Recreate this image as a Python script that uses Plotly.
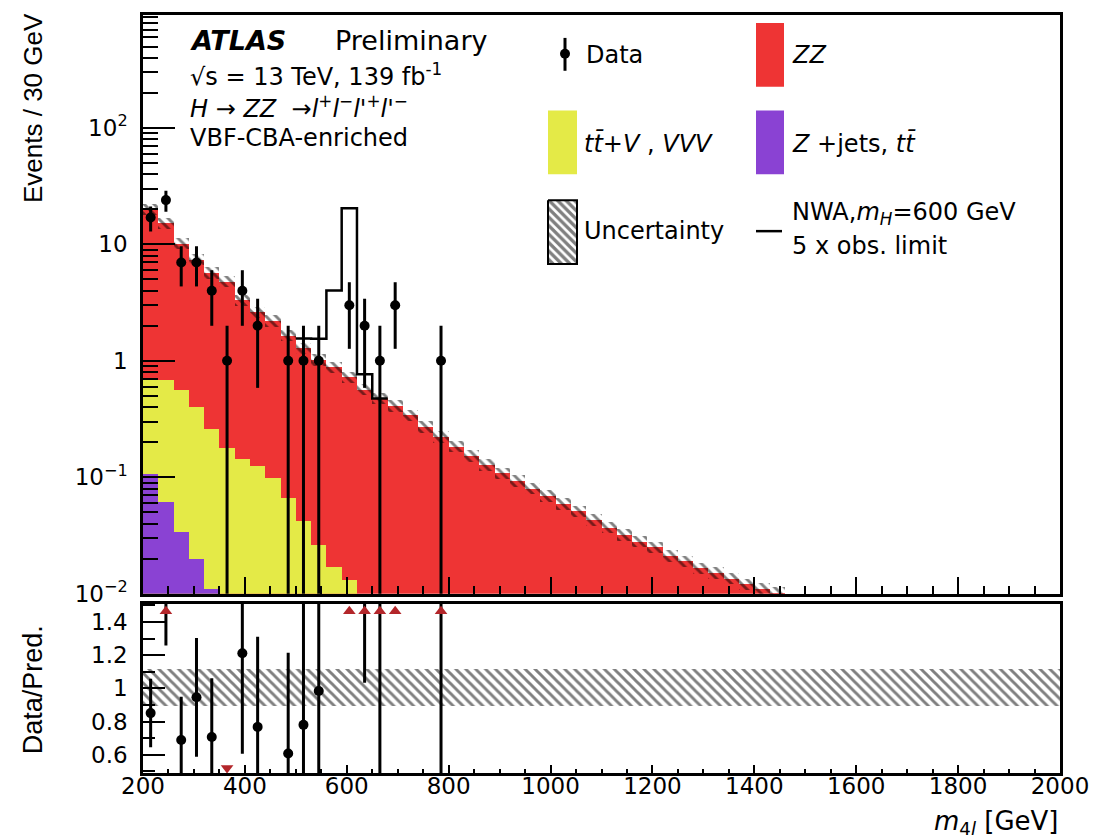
import numpy as np
import plotly.graph_objects as go

# ---------------- values ----------------
bin_edges = list(range(200, 2001, 30))            # 60 bins of 30 GeV
data_counts = [17, 24, 7, 7, 4, 1, 4, 2, 0, 1,
               1, 1, 0, 3, 2, 1, 3, 0, 0, 1] + [0] * 40
zz_yield = [19.3, 14.5, 9.6, 7.0, 5.4, 4.6, 3.16, 2.48, 2.10, 1.58,
            1.24, 0.99, 0.86, 0.71, 0.56, 0.47, 0.41, 0.34, 0.27, 0.221,
            0.183, 0.152, 0.127, 0.108, 0.093, 0.080, 0.069, 0.059, 0.051, 0.043,
            0.037, 0.032, 0.028, 0.025, 0.021, 0.019, 0.0165, 0.015, 0.0135, 0.012,
            0.011, 0.0102] + [0] * 18
ttv_vvv_yield = [0.574, 0.619, 0.526, 0.380, 0.249, 0.174, 0.139, 0.125, 0.099, 0.067,
                 0.042, 0.026, 0.017, 0.013, 0.007, 0.005] + [0] * 44
zjets_tt_yield = [0.106, 0.061, 0.034, 0.020, 0.011, 0.006, 0.004] + [0] * 53
signal_nwa600 = [0] * 10 + [0.27, 0.53, 3.15, 19.7, 0.20] + [0] * 45
unc_rel_up = 0.12
unc_rel_dn = 0.105
x_tick_vals = [200, 400, 600, 800, 1000, 1200, 1400, 1600, 1800, 2000]
y_tick_vals = [0.01, 0.1, 1, 10, 100]
y_tick_text = ["10<sup>\u22122</sup>", "10<sup>\u22121</sup>", "1", "10", "10<sup>2</sup>"]
r_tick_vals = [0.6, 0.8, 1.0, 1.2, 1.4]
r_tick_text = ["0.6", "0.8", "1", "1.2", "1.4"]

# ---------------- derived ----------------
edges = np.array(bin_edges, float)
centers = 0.5 * (edges[:-1] + edges[1:])
widths = np.diff(edges)
zj = np.array(zjets_tt_yield, float)
ttv = np.array(ttv_vvv_yield, float)
zz = np.array(zz_yield, float)
sig = np.array(signal_nwa600, float)
n = np.array(data_counts, float)
cum_purple = zj
cum_yellow = zj + ttv
total = cum_yellow + zz

RED = "#ee3434"
YELLOW = "#e4ea47"
PURPLE = "#8a42d3"
ARROW = "#b3262a"

def nz(a):
    return [float(v) if v > 0 else None for v in a]

W, H = 1113, 839
L, R, T, B = 143, 53, 12, 66
PW, PH = W - L - R, H - T - B

def px(xp):
    return (xp - L) / PW

def py(yp):
    return (H - B - yp) / PH

fig = go.Figure()

# stacked backgrounds (drawn as cumulative histograms, ROOT THStack style)
for cum, col in [(total, RED), (cum_yellow, YELLOW), (cum_purple, PURPLE)]:
    fig.add_trace(go.Bar(x=centers, y=nz(cum), width=widths,
                         marker=dict(color=col, line=dict(width=0)),
                         xaxis="x", yaxis="y", showlegend=False, hoverinfo="skip"))

HATCH = dict(shape="\\", fgcolor="black", bgcolor="rgba(0,0,0,0)", size=7, solidity=0.42)

# uncertainty band (main)
m = total > 0
fig.add_trace(go.Bar(x=centers[m], base=total[m] * (1 - unc_rel_dn),
                     y=total[m] * (unc_rel_up + unc_rel_dn), width=widths[m],
                     marker=dict(color="rgba(0,0,0,0)", line=dict(width=0), pattern=HATCH),
                     xaxis="x", yaxis="y", showlegend=False, hoverinfo="skip"))

# signal outline stacked on total
idx = np.nonzero(sig)[0]
i0, i1 = idx[0], idx[-1] + 1
sx = list(edges[i0:i1 + 2])
sy = list((total + sig)[i0:i1 + 1]) + [(total + sig)[i1]]
fig.add_trace(go.Scatter(x=sx, y=sy, mode="lines", line=dict(color="black", width=2.5, shape="hv"),
                         xaxis="x", yaxis="y", showlegend=False, hoverinfo="skip"))

# data
dm = n > 0
err = np.sqrt(n[dm])
fig.add_trace(go.Scatter(x=centers[dm], y=n[dm], mode="markers",
                         marker=dict(color="black", size=10),
                         error_y=dict(type="data", array=err, arrayminus=np.minimum(err, n[dm] * 0.9999),
                                      color="black", thickness=3, width=0),
                         xaxis="x", yaxis="y", showlegend=False, hoverinfo="skip"))

# ---------------- ratio ----------------
RMIN, RMAX = 0.49, 1.51
fig.add_trace(go.Bar(x=centers, base=[1 - unc_rel_dn] * len(centers),
                     y=[unc_rel_up + unc_rel_dn] * len(centers), width=widths,
                     marker=dict(color="rgba(0,0,0,0)", line=dict(width=0), pattern=HATCH),
                     xaxis="x2", yaxis="y2", showlegend=False, hoverinfo="skip"))
rm = (n > 0) & (total > 0)
ratio = np.where(rm, n / np.where(total > 0, total, 1), 0)
rerr = np.where(rm, np.sqrt(n) / np.where(total > 0, total, 1), 0)
fig.add_trace(go.Scatter(x=centers[rm], y=ratio[rm], mode="markers",
                         marker=dict(color="black", size=10), cliponaxis=True,
                         error_y=dict(type="data", array=rerr[rm],
                                      arrayminus=np.minimum(rerr[rm], ratio[rm] * 0.9999),
                                      color="black", thickness=3, width=0),
                         xaxis="x2", yaxis="y2", showlegend=False, hoverinfo="skip"))
up = rm & (ratio > RMAX)
dn = rm & (ratio < RMIN)
fig.add_trace(go.Scatter(x=centers[up], y=[RMAX - 0.045] * int(up.sum()), mode="markers",
                         marker=dict(symbol="triangle-up", color=ARROW, size=11),
                         xaxis="x2", yaxis="y2", showlegend=False, hoverinfo="skip"))
fig.add_trace(go.Scatter(x=centers[dn], y=[RMIN + 0.03] * int(dn.sum()), mode="markers",
                         marker=dict(symbol="triangle-down", color=ARROW, size=11),
                         xaxis="x2", yaxis="y2", showlegend=False, hoverinfo="skip"))

# ---------------- legend hatched swatch (pixel-coordinate overlay axes) ----------------
fig.add_trace(go.Scatter(x=[548, 577, 577, 548, 548], y=[198, 198, 262, 262, 198],
                         mode="lines", fill="toself", fillcolor="white",
                         fillpattern=dict(shape="\\", fgcolor="black", bgcolor="white", size=6, solidity=0.55),
                         line=dict(color="black", width=2),
                         xaxis="x3", yaxis="y3", showlegend=False, hoverinfo="skip"))

TICKF = dict(family="DejaVu Sans", size=23, color="black")
main_dom = [py(593), 1.0]
ratio_dom = [0.0, py(603)]
axcommon = dict(showline=True, linecolor="black", linewidth=2.5, mirror=True,
                showgrid=False, zeroline=False, ticks="inside", tickcolor="black")

fig.update_layout(
    width=W, height=H, margin=dict(l=L, r=R, t=T, b=B),
    paper_bgcolor="white", plot_bgcolor="rgba(0,0,0,0)",
    barmode="overlay", bargap=0, showlegend=False,
    xaxis=dict(domain=[0, 1], anchor="y", range=[200, 2000], tickvals=x_tick_vals,
               showticklabels=False, ticklen=17, tickwidth=2,
               minor=dict(dtick=50, tick0=200, ticks="inside", ticklen=8, tickwidth=1.5, tickcolor="black"),
               **axcommon),
    yaxis=dict(domain=main_dom, anchor="x", type="log", range=[-2, 2.97],
               tickvals=y_tick_vals, ticktext=y_tick_text, tickfont=TICKF,
               ticklen=32, tickwidth=2, ticklabelstandoff=8,
               minor=dict(tickvals=[k * 10 ** e for e in range(-2, 3) for k in range(2, 10)],
                          ticks="inside", ticklen=15, tickwidth=1.5, tickcolor="black"),
               **axcommon),
    xaxis2=dict(domain=[0, 1], anchor="y2", matches="x", range=[200, 2000], tickvals=x_tick_vals,
                tickfont=TICKF, ticklen=8, tickwidth=2, ticklabelstandoff=-9,
                minor=dict(dtick=50, tick0=200, ticks="inside", ticklen=4, tickwidth=1.5, tickcolor="black"),
                **axcommon),
    yaxis2=dict(domain=ratio_dom, anchor="x2", range=[RMIN, RMAX],
                tickvals=r_tick_vals, ticktext=r_tick_text, tickfont=TICKF,
                ticklen=22, tickwidth=2, ticklabelstandoff=8,
                minor=dict(tickvals=[0.5, 0.7, 0.9, 1.1, 1.3, 1.5], ticks="inside",
                           ticklen=12, tickwidth=1.5, tickcolor="black"),
                **axcommon),
    xaxis3=dict(domain=[0, 1], anchor="y3", range=[L, W - R], visible=False, fixedrange=True),
    yaxis3=dict(domain=[0, 1], anchor="x3", range=[H - B, T], visible=False, fixedrange=True),
)

# ---------------- legend shapes ----------------
shapes = [
    dict(type="line", xref="paper", yref="paper", x0=px(565), x1=px(565), y0=py(35), y1=py(68),
         line=dict(color="black", width=3)),
    dict(type="circle", xref="paper", yref="paper", x0=px(560), x1=px(570), y0=py(46), y1=py(56),
         fillcolor="black", line=dict(color="black", width=0)),
    dict(type="rect", xref="paper", yref="paper", x0=px(756), x1=px(784), y0=py(20), y1=py(84),
         fillcolor=RED, line=dict(width=0)),
    dict(type="rect", xref="paper", yref="paper", x0=px(548), x1=px(577), y0=py(108), y1=py(172),
         fillcolor=YELLOW, line=dict(width=0)),
    dict(type="rect", xref="paper", yref="paper", x0=px(756), x1=px(784), y0=py(108), y1=py(172),
         fillcolor=PURPLE, line=dict(width=0)),
    dict(type="line", xref="paper", yref="paper", x0=px(756), x1=px(782), y0=py(229), y1=py(229),
         line=dict(color="black", width=2.5)),
]
fig.update_layout(shapes=shapes)

HF = dict(family="DejaVu Sans", size=27, color="black")
HF2 = dict(family="DejaVu Sans", size=24, color="black")
LF = dict(family="DejaVu Sans", size=24, color="black")

def txt(x, y, s, font, xanchor="left", yanchor="middle", angle=0):
    fig.add_annotation(x=px(x), y=py(y), xref="paper", yref="paper", text=s, showarrow=False,
                       xanchor=xanchor, yanchor=yanchor, font=font, textangle=angle)

txt(188, 38, "<b><i>ATLAS</i></b>", HF)
txt(333, 38, "Preliminary", HF)
txt(188, 72, "\u221As = 13 TeV, 139 fb<sup>-1</sup>", HF2)
txt(188, 104, "<i>H</i> \u2192 <i>ZZ</i>  \u2192<i>l</i><sup>+</sup><i>l</i><sup>\u2212</sup>"
              "<i>l'</i><sup>+</sup><i>l'</i><sup>\u2212</sup>", HF2)
txt(188, 135, "VBF-CBA-enriched", HF2)

txt(584, 52, "Data", LF)
txt(790, 52, "<i>ZZ</i>", LF)
txt(582, 141, "<i>tt\u0304+V</i> , <i>VVV</i>", LF)
txt(790, 141, "<i>Z</i> +jets, <i>tt\u0304</i>", LF)
txt(582, 229, "Uncertainty", LF)
txt(790, 211, "NWA,<i>m</i><sub><i>H</i></sub>=600 GeV", LF)
txt(790, 244, "5 x obs. limit", LF)

txt(1060, 823, "<i>m</i><sub>4<i>l</i></sub> [GeV]", dict(family="DejaVu Sans", size=26, color="black"),
    xanchor="right")
txt(33, 8, "Events / 30 GeV", dict(family="Liberation Sans", size=26, color="black"),
    xanchor="center", yanchor="top", angle=-90)
txt(33, 690, "Data/Pred.", dict(family="Liberation Sans", size=27, color="black"),
    xanchor="center", angle=-90)

fig.write_html("out.html")
